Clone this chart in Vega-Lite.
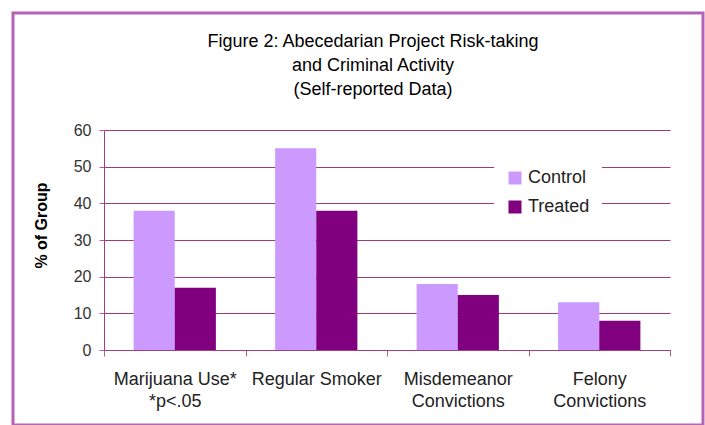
{
  "$schema": "https://vega.github.io/schema/vega-lite/v6.json",
  "autosize": {"type": "none"},
  "padding": {"left": 13, "top": 13, "right": 2, "bottom": 0},
  "width": 690,
  "height": 412,
  "background": "white",
  "title": {
    "text": ["Figure 2: Abecedarian Project Risk-taking", "and Criminal Activity", "(Self-reported Data)"],
    "fontSize": 18,
    "font": "Liberation Sans",
    "fontWeight": "normal",
    "color": "black",
    "lineHeight": 24,
    "anchor": "middle",
    "frame": "group",
    "offset": -86,
    "dx": 15
  },
  "data": {
    "values": [
      {"category": "Marijuana Use*|*p<.05", "group": "Control", "pct": 38},
      {"category": "Marijuana Use*|*p<.05", "group": "Treated", "pct": 17},
      {"category": "Regular Smoker", "group": "Control", "pct": 55},
      {"category": "Regular Smoker", "group": "Treated", "pct": 38},
      {"category": "Misdemeanor|Convictions", "group": "Control", "pct": 18},
      {"category": "Misdemeanor|Convictions", "group": "Treated", "pct": 15},
      {"category": "Felony|Convictions", "group": "Control", "pct": 13},
      {"category": "Felony|Convictions", "group": "Treated", "pct": 8}
    ]
  },
  "mark": {"type": "bar"},
  "encoding": {
    "x": {
      "field": "category",
      "type": "nominal",
      "sort": null,
      "scale": {"range": [91, 657], "paddingInner": 0, "paddingOuter": 0},
      "axis": {
        "title": null,
        "labelAngle": 0,
        "labelExpr": "split(datum.label, '|')",
        "labelFont": "Liberation Sans",
        "labelFontSize": 18,
        "labelColor": "#222222",
        "labelLineHeight": 22,
        "labelPadding": 14,
        "tickBand": "extent",
        "tickSize": 6,
        "offset": -75,
        "domainColor": "#a04078",
        "tickColor": "#b06090",
        "grid": false
      }
    },
    "xOffset": {
      "field": "group",
      "type": "nominal",
      "sort": ["Control", "Treated"],
      "scale": {"paddingOuter": 0.72, "paddingInner": 0}
    },
    "y": {
      "field": "pct",
      "type": "quantitative",
      "scale": {"domain": [0, 60], "range": [337, 117], "nice": false},
      "axis": {
        "title": "% of Group",
        "titleFont": "Liberation Sans",
        "titleFontSize": 16,
        "titleFontWeight": "bold",
        "titleColor": "black",
        "titleX": -63,
        "titleY": 212,
        "titleAlign": "center",
        "titleBaseline": "middle",
        "titleAngle": -90,
        "values": [0, 10, 20, 30, 40, 50, 60],
        "offset": -91,
        "labelFont": "Liberation Sans",
        "labelFontSize": 16,
        "labelColor": "#333333",
        "labelPadding": 8,
        "tickSize": 5,
        "tickColor": "#b06090",
        "domainColor": "#a04078",
        "grid": true,
        "gridColor": "#a33a73"
      }
    },
    "color": {
      "field": "group",
      "type": "nominal",
      "scale": {"domain": ["Control", "Treated"], "range": ["#cc99ff", "#800080"]},
      "legend": {
        "title": null,
        "orient": "none",
        "legendX": 481,
        "legendY": 144,
        "fillColor": "white",
        "padding": 12,
        "symbolType": "square",
        "symbolSize": 169,
        "symbolStrokeWidth": 0,
        "labelFont": "Liberation Sans",
        "labelFontSize": 18,
        "labelColor": "#222222",
        "labelOffset": 4,
        "rowPadding": 11
      }
    }
  },
  "config": {
    "view": {"stroke": "#b563b5", "strokeWidth": 3},
    "font": "Liberation Sans"
  }
}
